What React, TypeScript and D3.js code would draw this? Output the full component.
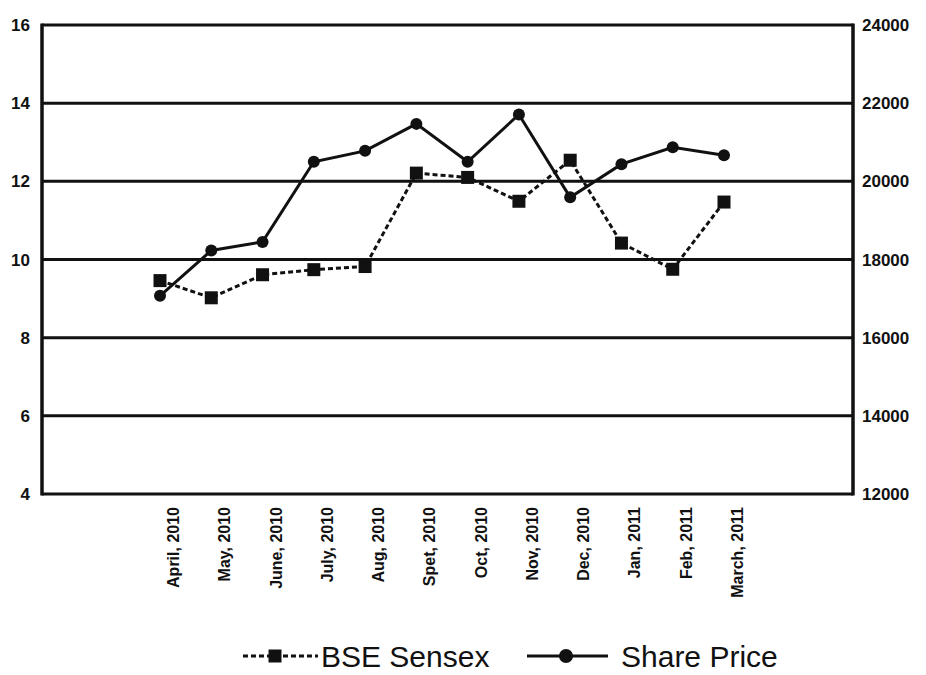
import React from 'react';
import * as d3 from 'd3';

// months on the category axis
const months = [
  'April, 2010', 'May, 2010', 'June, 2010', 'July, 2010', 'Aug, 2010', 'Spet, 2010',
  'Oct, 2010', 'Nov, 2010', 'Dec, 2010', 'Jan, 2011', 'Feb, 2011', 'March, 2011',
];
// share price -> left axis
const sharePrice = [9.07, 10.23, 10.45, 12.5, 12.78, 13.47, 12.5, 13.71, 11.59, 12.44, 12.87, 12.67];
// BSE Sensex -> right axis
const bseSensex = [17460, 17020, 17610, 17740, 17820, 20210, 20100, 19490, 20540, 18420, 17750, 19470];

const leftTicks = [4, 6, 8, 10, 12, 14, 16];
const rightTicks = [12000, 14000, 16000, 18000, 20000, 22000, 24000];

const W = 926;
const H = 675;
const plot = {left: 42, right: 853, top: 25, bottom: 494};
const font = '"Liberation Sans", Arial, sans-serif';
const ink = '#111';

const App = () => {
  const x = d3.scalePoint<string>()
    .domain(months)
    .range([plot.left + 118, plot.left + 682]);
  const yL = d3.scaleLinear().domain([4, 16]).range([plot.bottom, plot.top]);
  const yR = d3.scaleLinear().domain([12000, 24000]).range([plot.bottom, plot.top]);

  const sharePts = months.map((m, i) => [x(m)!, yL(sharePrice[i])] as [number, number]);
  const bsePts = months.map((m, i) => [x(m)!, yR(bseSensex[i])] as [number, number]);
  const line = d3.line();

  const sq = 13;
  const legY = 656;

  return (
    <svg width={W} height={H} style={{position: 'absolute', left: 0, top: 0, background: '#fff'}}>
      {/* gridlines */}
      {leftTicks.map(t => (
        <line key={t} x1={plot.left} x2={plot.right} y1={yL(t)} y2={yL(t)} stroke={ink} strokeWidth={3}/>
      ))}
      {/* frame */}
      <line x1={plot.left} x2={plot.left} y1={plot.top - 1.5} y2={plot.bottom + 1.5} stroke={ink} strokeWidth={3.5}/>
      <line x1={plot.right} x2={plot.right} y1={plot.top - 1.5} y2={plot.bottom + 1.5} stroke={ink} strokeWidth={3.5}/>

      {/* left axis labels */}
      {leftTicks.map(t => (
        <text key={t} x={30} y={yL(t)} dy="0.36em" textAnchor="end" fontFamily={font}
              fontWeight="bold" fontSize={17} fill={ink}>{t}</text>
      ))}
      {/* right axis labels */}
      {rightTicks.map(t => (
        <text key={t} x={862} y={yR(t)} dy="0.36em" textAnchor="start" fontFamily={font}
              fontWeight="bold" fontSize={17} fill={ink}>{t}</text>
      ))}

      {/* category labels */}
      {months.map(m => (
        <text key={m} transform={`translate(${x(m)! + 19},507) rotate(-90)`} textAnchor="end"
              fontFamily={font} fontWeight="bold" fontSize={16} fill={ink}>{m}</text>
      ))}

      {/* BSE Sensex */}
      <path d={line(bsePts)!} fill="none" stroke={ink} strokeWidth={3} strokeDasharray="5,3"/>
      {bsePts.map(([px, py], i) => (
        <rect key={i} x={px - sq / 2} y={py - sq / 2} width={sq} height={sq} fill={ink}/>
      ))}

      {/* Share Price */}
      <path d={line(sharePts)!} fill="none" stroke={ink} strokeWidth={3}/>
      {sharePts.map(([px, py], i) => (
        <circle key={i} cx={px} cy={py} r={6} fill={ink}/>
      ))}

      {/* legend */}
      <line x1={243} x2={318} y1={legY} y2={legY} stroke={ink} strokeWidth={3} strokeDasharray="5,3"/>
      <rect x={275 - sq / 2} y={legY - sq / 2} width={sq} height={sq} fill={ink}/>
      <text x={321} y={legY} dy="0.36em" fontFamily={font} fontSize={30} fill={ink}>BSE Sensex</text>
      <line x1={527} x2={608} y1={legY} y2={legY} stroke={ink} strokeWidth={3}/>
      <circle cx={566} cy={legY} r={7} fill={ink}/>
      <text x={621} y={legY} dy="0.36em" fontFamily={font} fontSize={30} fill={ink}>Share Price</text>
    </svg>
  );
};

export default App;
